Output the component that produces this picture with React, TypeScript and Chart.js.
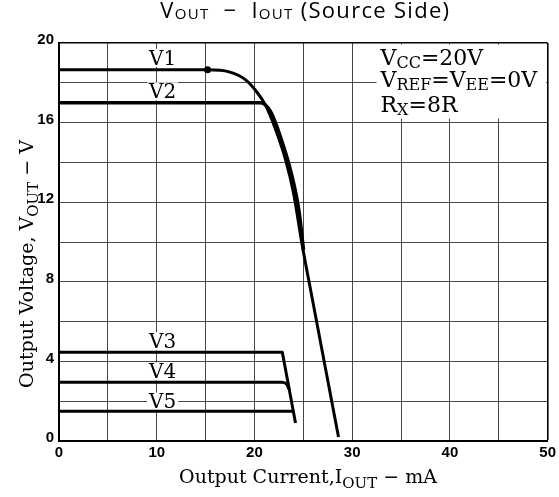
import React, { useEffect, useRef } from 'react';
import { Chart, registerables } from 'chart.js';

Chart.register(...registerables);

// ---- Data ----
const v1Current = [0, 15.2, 17.4, 19.1, 20.3, 21.1, 22.2, 23.2, 24.0, 24.9, 25.8, 28.6];
const v1Voltage = [18.65, 18.65, 18.55, 18.15, 17.5, 16.9, 15.6, 14.1, 12.45, 9.8, 7.45, 0.2];

const v2Current = [0, 20.6, 21.65, 22.75, 23.72, 24.56, 25.02];
const v2Voltage = [17.0, 17.0, 16.55, 15.15, 13.55, 11.55, 9.6];

const v3Current = [0, 22.85, 24.2];
const v3Voltage = [4.46, 4.46, 0.9];

const v4Current = [0, 22.8, 23.3, 23.6];
const v4Voltage = [2.95, 2.95, 2.85, 2.55];

const v5Current = [0, 23.95];
const v5Voltage = [1.5, 1.5];

const curveLabels = ['V1', 'V2', 'V3', 'V4', 'V5'];
const curveLabelCurrent = [10.6, 10.6, 10.6, 10.6, 10.6];
const curveLabelVoltage = [18.9, 17.22, 4.66, 3.15, 1.64];

const xTickValues = [0, 10, 20, 30, 40, 50];
const yTickValues = [0, 4, 8, 12, 16, 20];

type Piece = { t: string; sub?: boolean };

const titlePieces: Piece[] = [
  { t: 'V' }, { t: 'OUT', sub: true }, { t: '  −  ' }, { t: 'I' }, { t: 'OUT', sub: true }, { t: ' (Source Side)' },
];
const xTitlePieces: Piece[] = [
  { t: 'Output Current,I' }, { t: 'OUT', sub: true }, { t: ' − mA' },
];
const yTitlePieces: Piece[] = [
  { t: 'Output Voltage, V' }, { t: 'OUT', sub: true }, { t: ' − V' },
];
const conditionRows: Piece[][] = [
  [{ t: 'V' }, { t: 'CC', sub: true }, { t: '=' }, { t: '20V' }],
  [{ t: 'V' }, { t: 'REF', sub: true }, { t: '=' }, { t: 'V' }, { t: 'EE', sub: true }, { t: '=' }, { t: '0V' }],
  [{ t: 'R' }, { t: 'X', sub: true }, { t: '=' }, { t: '8R' }],
];
const conditionLeftCurrent = 32.9;
const conditionRowVoltage = [18.89, 17.79, 16.55];

// ---- Styles ----
const SERIF = '"DejaVu Serif", "Liberation Serif", serif';
const TITLE_FONT = '"Open Sans", "DejaVu Sans", sans-serif';
const TICK_FONT = '"Liberation Sans", Arial, sans-serif';

function toXY(xs: number[], ys: number[]) {
  return xs.map((x, i) => ({ x, y: ys[i] }));
}

function drawRich(
  ctx: CanvasRenderingContext2D,
  pieces: Piece[],
  x: number,
  y: number,
  o: { family: string; size: number; subSize: number; subDy: number; align: 'left' | 'center' }
) {
  const widths = pieces.map((p) => {
    ctx.font = `${p.sub ? o.subSize : o.size}px ${o.family}`;
    return ctx.measureText(p.t).width;
  });
  const total = widths.reduce((a, b) => a + b, 0);
  let cx = o.align === 'center' ? x - total / 2 : x;
  ctx.textAlign = 'left';
  ctx.textBaseline = 'alphabetic';
  pieces.forEach((p, i) => {
    ctx.font = `${p.sub ? o.subSize : o.size}px ${o.family}`;
    ctx.fillText(p.t, cx, y + (p.sub ? o.subDy : 0));
    cx += widths[i];
  });
  return total;
}

const annotPlugin = {
  id: 'annot',
  beforeDatasetsDraw(chart: any) {
    const { ctx, scales, chartArea } = chart;
    const xs = scales.x;
    const ys = scales.y;
    ctx.save();
    curveLabels.forEach((t, i) => {
      const px = xs.getPixelForValue(curveLabelCurrent[i]);
      const py = ys.getPixelForValue(curveLabelVoltage[i]);
      ctx.font = `20px ${SERIF}`;
      const w = ctx.measureText(t).width;
      ctx.fillStyle = '#fff';
      ctx.fillRect(px - w / 2 - 2, py - 16, w + 4, 18);
      ctx.fillStyle = '#000';
      ctx.textAlign = 'center';
      ctx.textBaseline = 'alphabetic';
      ctx.fillText(t, px, py);
    });
    const left = xs.getPixelForValue(conditionLeftCurrent);
    const bottom = ys.getPixelForValue(16.2);
    ctx.fillStyle = '#fff';
    ctx.fillRect(left - 4, chartArea.top + 1.5, chartArea.right - 1.5 - (left - 4), bottom - chartArea.top - 1.5);
    ctx.fillStyle = '#000';
    conditionRows.forEach((row, i) => {
      drawRich(ctx, row, left, ys.getPixelForValue(conditionRowVoltage[i]), {
        family: SERIF, size: 22, subSize: 16, subDy: 3, align: 'left',
      });
    });
    ctx.restore();
  },
  afterDraw(chart: any) {
    const { ctx, chartArea } = chart;
    ctx.save();
    ctx.fillStyle = '#000';
    (ctx as any).letterSpacing = '1.3px';
    drawRich(ctx, titlePieces, (chartArea.left + chartArea.right) / 2 + 2, 18, {
      family: TITLE_FONT, size: 22, subSize: 15, subDy: 1, align: 'center',
    });
    (ctx as any).letterSpacing = '0px';
    drawRich(ctx, xTitlePieces, 308, 483, {
      family: SERIF, size: 19, subSize: 15, subDy: 5, align: 'center',
    });
    ctx.translate(33, 264);
    ctx.rotate(-Math.PI / 2);
    drawRich(ctx, yTitlePieces, 0, 0, {
      family: SERIF, size: 19, subSize: 15, subDy: 5, align: 'center',
    });
    ctx.restore();
  },
};

const gridColor = (max: number) => (c: any) =>
  c.tick && c.tick.value === max ? '#000' : 'rgba(0,0,0,0.72)';
const gridWidth = (max: number) => (c: any) => (c.tick && c.tick.value === max ? 1.6 : 1);

export default function App() {
  const ref = useRef<HTMLCanvasElement>(null);
  useEffect(() => {
    if (!ref.current) return;
    const line = (xs: number[], ys: number[], smooth: boolean, extra: any = {}) => ({
      data: toXY(xs, ys),
      showLine: true,
      borderColor: '#000',
      backgroundColor: '#000',
      borderWidth: 3,
      pointRadius: 0,
      pointHoverRadius: 0,
      tension: smooth ? 0.4 : 0,
      cubicInterpolationMode: smooth ? 'monotone' : 'default',
      borderJoinStyle: 'round',
      borderCapStyle: 'butt',
      fill: false,
      ...extra,
    });
    const chart = new Chart(ref.current, {
      type: 'scatter',
      data: {
        datasets: [
          line(v1Current, v1Voltage, true, {
            pointRadius: v1Current.map((_, i) => (i === 1 ? 3.5 : 0)),
            pointBackgroundColor: '#000',
            pointBorderWidth: 0,
          }),
          line(v2Current, v2Voltage, true, { borderWidth: 3.5 }),
          line(v3Current, v3Voltage, false),
          line(v4Current, v4Voltage, true),
          line(v5Current, v5Voltage, false),
        ] as any,
      },
      options: {
        animation: false,
        responsive: false,
        events: [],
        layout: { padding: { top: 43, right: 10, left: 0, bottom: 0 } },
        plugins: {
          legend: { display: false },
          tooltip: { enabled: false },
          title: { display: false },
        },
        scales: {
          x: {
            type: 'linear',
            min: 0,
            max: 50,
            afterFit: (s: any) => { s.height = 56; },
            afterBuildTicks: (s: any) => {
              const t = [];
              for (let v = 0; v <= 50; v += 5) t.push({ value: v });
              s.ticks = t;
            },
            ticks: {
              autoSkip: false,
              maxRotation: 0,
              padding: 3,
              color: '#000',
              font: { family: TICK_FONT, size: 15, weight: 'bold' },
              callback: (v: any) => (xTickValues.includes(Number(v)) ? String(v) : ''),
            },
            grid: { color: gridColor(50), lineWidth: gridWidth(50), drawTicks: false },
            border: { color: '#000', width: 2 },
          },
          y: {
            type: 'linear',
            min: 0,
            max: 20,
            afterFit: (s: any) => { s.width = 59; },
            afterBuildTicks: (s: any) => {
              const t = [];
              for (let v = 0; v <= 20; v += 2) t.push({ value: v });
              s.ticks = t;
            },
            ticks: {
              autoSkip: false,
              padding: 5,
              labelOffset: -3,
              color: '#000',
              font: { family: TICK_FONT, size: 15, weight: 'bold' },
              callback: (v: any) => (yTickValues.includes(Number(v)) ? String(v) : ''),
            },
            grid: { color: gridColor(20), lineWidth: gridWidth(20), drawTicks: false },
            border: { color: '#000', width: 2 },
          },
        },
      } as any,
      plugins: [annotPlugin],
    });
    return () => chart.destroy();
  }, []);
  return (
    <div style={{ position: 'absolute', left: 0, top: 0, width: 559, height: 497, background: '#fff' }}>
      <canvas ref={ref} width={559} height={497} style={{ display: 'block' }} />
    </div>
  );
}
